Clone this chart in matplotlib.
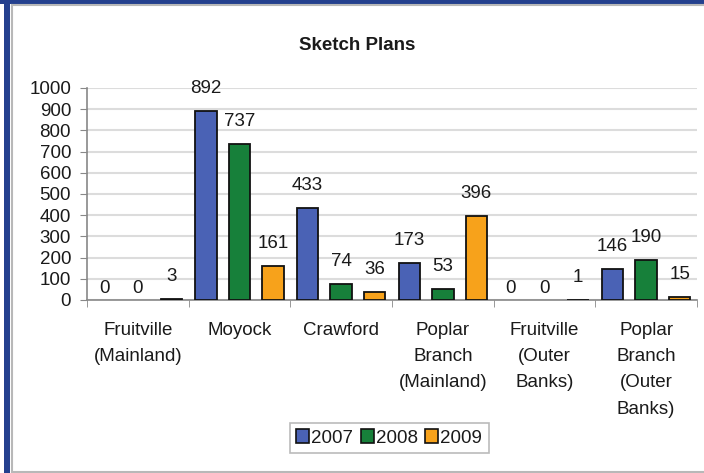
import matplotlib
matplotlib.use("Agg")
import matplotlib.pyplot as plt
from matplotlib.patches import Rectangle
from matplotlib.lines import Line2D
import numpy as np

categories = ["Fruitville\n(Mainland)", "Moyock", "Crawford",
              "Poplar\nBranch\n(Mainland)", "Fruitville\n(Outer\nBanks)",
              "Poplar\nBranch\n(Outer\nBanks)"]
series_names = ["2007", "2008", "2009"]
v2007 = [0, 892, 433, 173, 0, 146]
v2008 = [0, 737, 74, 53, 0, 190]
v2009 = [3, 161, 36, 396, 1, 15]
yticks = [0, 100, 200, 300, 400, 500, 600, 700, 800, 900, 1000]

colors = ["#4a62b5", "#17803a", "#f7a21b"]

plt.rcParams['font.family'] = ['Liberation Sans', 'DejaVu Sans']
W, H = 704, 473
fig = plt.figure(figsize=(W / 100, H / 100), dpi=100)
fig.patch.set_facecolor("white")

# frame decorations
def fx(px): return px / W
def fy(py): return 1 - py / H
fig.patches.append(Rectangle((fx(4), fy(473)), fx(6), 473 / H, transform=fig.transFigure,
                             facecolor="#24408e", edgecolor="none", zorder=0))
fig.patches.append(Rectangle((fx(0), fy(4)), 1, 4 / H, transform=fig.transFigure,
                             facecolor="#24408e", edgecolor="none", zorder=0))
fig.lines.append(Line2D([fx(11.5), fx(11.5)], [fy(5.5), fy(471.5)], transform=fig.transFigure,
                        color="#b8b8b8", lw=1.5))
fig.lines.append(Line2D([fx(11.5), 1], [fy(5.5), fy(5.5)], transform=fig.transFigure,
                        color="#b8b8b8", lw=1.5))
fig.lines.append(Line2D([fx(11.5), 1], [fy(471.5), fy(471.5)], transform=fig.transFigure,
                        color="#b8b8b8", lw=1.5))

ax = fig.add_axes([fx(87), fy(300), fx(697) - fx(87), fy(88) - fy(300)])
x = np.arange(len(categories))
offsets = [-0.33, 0.0, 0.33]
width = 0.21
txtcolor = "#1a1a1a"
fs = 13.5

handles = []
for vals, off, col, name in zip([v2007, v2008, v2009], offsets, colors, series_names):
    lws = [0 if v == 0 else 1.3 for v in vals]
    bars = ax.bar(x + off, vals, width, color=col, edgecolor="#111111", linewidth=lws,
                  label=name, zorder=3)
    handles.append(bars)
    for xi, v in zip(x + off, vals):
        ax.annotate(str(v), (xi, v), xytext=(0, 2.2 if v == 0 else 10),
                    textcoords="offset points", ha="center", va="bottom",
                    fontsize=fs, color=txtcolor)

ax.set_xlim(-0.5, len(categories) - 0.5)
ax.set_ylim(0, 1000)
ax.set_yticks(yticks)
ax.set_yticklabels([str(t) for t in yticks])
ax.yaxis.grid(True, color="#dcdcdc", linewidth=1.5, zorder=0)
ax.set_axisbelow(True)
ax.set_xticks(x)
ax.set_xticklabels(categories, linespacing=1.7)
ax.set_xticks(np.arange(-0.5, len(categories)), minor=True)
ax.tick_params(axis="x", which="major", length=0, pad=16, labelsize=fs, labelcolor=txtcolor)
ax.tick_params(axis="x", which="minor", length=5, color="#888888", direction="out")
ax.tick_params(axis="y", length=5, color="#888888", pad=6.5, labelsize=fs, labelcolor=txtcolor)
for s in ["top", "right"]:
    ax.spines[s].set_visible(False)
for s in ["left", "bottom"]:
    ax.spines[s].set_color("#888888")
    ax.spines[s].set_linewidth(1.2)

fig.text(fx(357), fy(45), "Sketch Plans", ha="center", va="center", fontsize=13.5,
         fontweight="bold", color=txtcolor)

leg = fig.legend(handles=[Rectangle((0, 0), 1, 1, facecolor=c, edgecolor="#111111", lw=1.2)
                          for c in colors],
                 labels=series_names, loc="center", bbox_to_anchor=(fx(389), fy(438)),
                 ncol=3, fontsize=fs, frameon=True, fancybox=False, handlelength=0.7,
                 handleheight=0.7, handletextpad=0.1, columnspacing=0.4, borderpad=0.35,
                 borderaxespad=0)
leg.get_frame().set_edgecolor("#aaaaaa")
leg.get_frame().set_linewidth(1.2)
for t in leg.get_texts():
    t.set_color(txtcolor)

fig.savefig("out.png", dpi=100)
